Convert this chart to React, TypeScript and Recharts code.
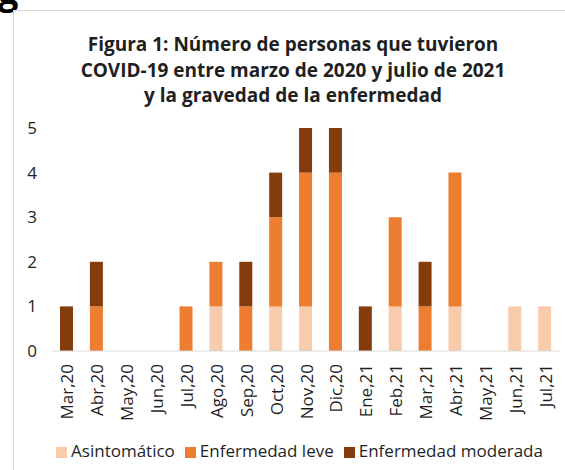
import React from 'react';
import { BarChart, Bar, XAxis, YAxis, Legend } from 'recharts';

const meses = ['Mar,20', 'Abr,20', 'May,20', 'Jun,20', 'Jul,20', 'Ago,20', 'Sep,20', 'Oct,20', 'Nov,20', 'Dic,20', 'Ene,21', 'Feb,21', 'Mar,21', 'Abr,21', 'May,21', 'Jun,21', 'Jul,21'];
const asintomatico = [0, 0, 0, 0, 0, 1, 0, 1, 1, 0, 0, 1, 0, 1, 0, 1, 1];
const leve = [0, 1, 0, 0, 1, 1, 1, 2, 3, 4, 0, 2, 1, 3, 0, 0, 0];
const moderada = [1, 1, 0, 0, 0, 0, 1, 1, 1, 1, 1, 0, 1, 0, 0, 0, 0];
const yTicks = [0, 1, 2, 3, 4, 5];

const data = meses.map((mes, i) => ({
    mes,
    asintomatico: asintomatico[i],
    leve: leve[i],
    moderada: moderada[i],
}));

// boundaries between months, for the little tick marks under the axis
const limites = Array.from({ length: meses.length + 1 }, (_, i) => i);

const FONT = '"Open Sans", "Noto Sans", sans-serif';
const TEXT = '#1f1f1f';

const MesTick = (props: any) => {
    const { x, y, payload } = props;
    const ay = y + 13;
    return (
        <text
            x={x}
            y={ay}
            transform={`rotate(-90, ${x}, ${ay})`}
            textAnchor="end"
            dominantBaseline="central"
            fontSize={17}
            fontFamily={FONT}
            fill={TEXT}
        >
            {payload.value}
        </text>
    );
};

const App = () => {
    return (
        <div style={{ position: 'fixed', left: 0, top: 0, width: 565, height: 470, overflow: 'hidden', background: '#fff', fontFamily: FONT }}>
            <span style={{ position: 'absolute', left: -2, top: -27, fontSize: 36, fontWeight: 700, lineHeight: '36px', color: '#000' }}>g</span>
            <div style={{ position: 'absolute', left: 13, top: 10, width: 600, height: 500, border: '1px solid #d9d9d9' }} />
            <div style={{ position: 'absolute', left: 14, top: 32, width: 558, textAlign: 'center', fontSize: 19, fontWeight: 700, lineHeight: '25.5px', color: TEXT }}>
                Figura 1: Número de personas que tuvieron<br />
                COVID-19 entre marzo de 2020 y julio de 2021<br />
                y la gravedad de la enfermedad
            </div>
            <div style={{ position: 'absolute', left: 0, top: 0 }}>
                <BarChart width={565} height={470} data={data} barSize={13} margin={{ top: 128, right: 5, bottom: 49, left: 0 }}>
                    <XAxis
                        xAxisId="marcas"
                        type="number"
                        domain={[0, meses.length]}
                        ticks={limites}
                        tick={false}
                        axisLine={false}
                        tickLine={{ stroke: '#d9d9d9' }}
                        tickSize={5}
                        height={0}
                    />
                    <XAxis
                        dataKey="mes"
                        interval={0}
                        axisLine={{ stroke: '#d9d9d9' }}
                        tickLine={false}
                        tickSize={0}
                        tickMargin={0}
                        tick={<MesTick />}
                        height={70}
                    />
                    <YAxis
                        domain={[0, 5]}
                        ticks={yTicks}
                        width={52}
                        axisLine={false}
                        tickLine={false}
                        tickSize={0}
                        tickMargin={15}
                        tick={{ fontSize: 17, fill: TEXT, fontFamily: FONT }}
                    />
                    <Legend
                        layout="horizontal"
                        verticalAlign="middle"
                        align="center"
                        iconType="square"
                        iconSize={11}
                        wrapperStyle={{ top: 439, left: 22, width: 565, fontSize: 17, fontFamily: FONT }}
                        formatter={(v: string) => <span style={{ color: TEXT }}>{v}</span>}
                    />
                    <Bar dataKey="asintomatico" name="Asintomático" stackId="a" fill="#F8CBAD" isAnimationActive={false} />
                    <Bar dataKey="leve" name="Enfermedad leve" stackId="a" fill="#ED7D31" isAnimationActive={false} />
                    <Bar dataKey="moderada" name="Enfermedad moderada" stackId="a" fill="#843C0C" isAnimationActive={false} />
                </BarChart>
            </div>
        </div>
    );
};

export default App;
